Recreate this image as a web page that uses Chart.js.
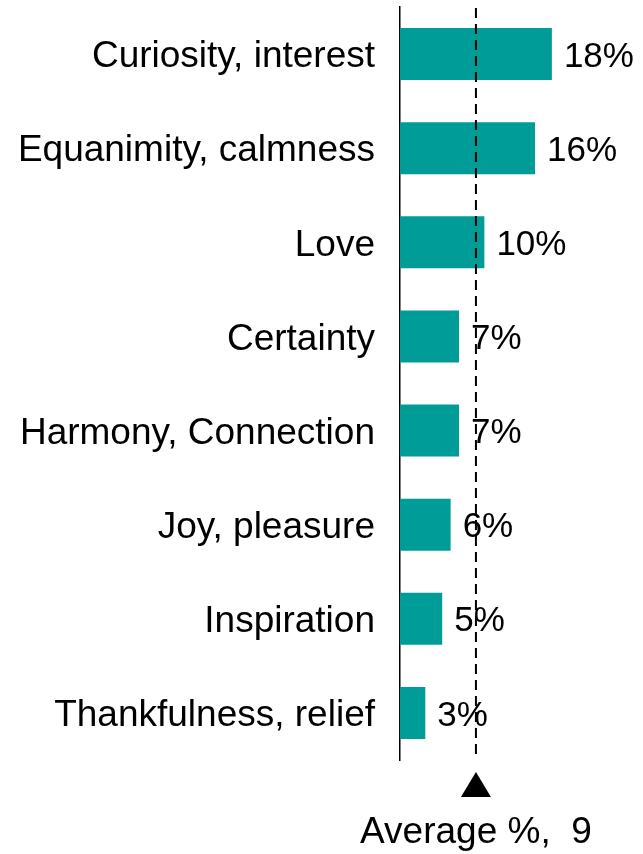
<!DOCTYPE html>
<html>
<head>
<meta charset="utf-8">
<script src="https://cdn.jsdelivr.net/npm/chart.js@4"></script>
<style>
  html, body { margin: 0; padding: 0; background: #fff; }
  #wrap { width: 643px; height: 854px; position: relative; }
</style>
</head>
<body>
<div id="wrap"><canvas id="chart"></canvas></div>
<script>
// Data
const categories = [
  "Curiosity, interest",
  "Equanimity, calmness",
  "Love",
  "Certainty",
  "Harmony, Connection",
  "Joy, pleasure",
  "Inspiration",
  "Thankfulness, relief"
];
const values = [18, 16, 10, 7, 7, 6, 5, 3];
const averageValue = 9;
const averageLabel = "Average %,  9";

const FONT = "'Liberation Sans', Arial, sans-serif";

// value labels at bar ends
const valueLabels = {
  id: "valueLabels",
  afterDatasetsDraw(chart) {
    const ctx = chart.ctx;
    const meta = chart.getDatasetMeta(0);
    ctx.save();
    ctx.font = "35px " + FONT;
    ctx.fillStyle = "#000";
    ctx.textAlign = "left";
    ctx.textBaseline = "middle";
    meta.data.forEach((bar, i) => {
      ctx.fillText(values[i] + "%", bar.x + 12, bar.y + 3);
    });
    ctx.restore();
  }
};

// dashed average line, triangle marker and caption
const averageMarker = {
  id: "averageMarker",
  afterDatasetsDraw(chart) {
    const ctx = chart.ctx;
    const area = chart.chartArea;
    const x = chart.scales.x.getPixelForValue(averageValue);
    ctx.save();
    ctx.strokeStyle = "#000";
    ctx.lineWidth = 2;
    ctx.setLineDash([10, 6]);
    ctx.beginPath();
    ctx.moveTo(x, area.top + 1);
    ctx.lineTo(x, area.bottom);
    ctx.stroke();
    ctx.setLineDash([]);

    ctx.fillStyle = "#000";
    ctx.beginPath();
    ctx.moveTo(x, area.bottom + 12);
    ctx.lineTo(x + 15, area.bottom + 37);
    ctx.lineTo(x - 15, area.bottom + 37);
    ctx.closePath();
    ctx.fill();

    ctx.font = "37px " + FONT;
    ctx.textAlign = "center";
    ctx.textBaseline = "middle";
    ctx.fillText(averageLabel, x, area.bottom + 73);
    ctx.restore();
  }
};

const ctx = document.getElementById("chart").getContext("2d");
new Chart(ctx, {
  type: "bar",
  data: {
    labels: categories,
    datasets: [{
      data: values,
      backgroundColor: "#009C98",
      borderWidth: 0,
      barPercentage: 0.553,
      categoryPercentage: 1
    }]
  },
  options: {
    indexAxis: "y",
    responsive: true,
    maintainAspectRatio: false,
    animation: false,
    layout: { padding: { top: 7, bottom: 94, left: 0, right: 0 } },
    plugins: {
      legend: { display: false },
      tooltip: { enabled: false }
    },
    scales: {
      x: {
        display: false,
        min: 0,
        max: 28.8
      },
      y: {
        grid: { display: false, drawTicks: false },
        border: { display: true, color: "#000", width: 1.5 },
        ticks: {
          color: "#000",
          font: { family: FONT, size: 37 },
          padding: 25,
          labelOffset: 3
        },
        afterFit(scale) {
          scale.width = 400;
          scale.paddingTop = 0;
          scale.paddingBottom = 0;
        }
      }
    }
  },
  plugins: [valueLabels, averageMarker]
});
</script>
</body>
</html>
